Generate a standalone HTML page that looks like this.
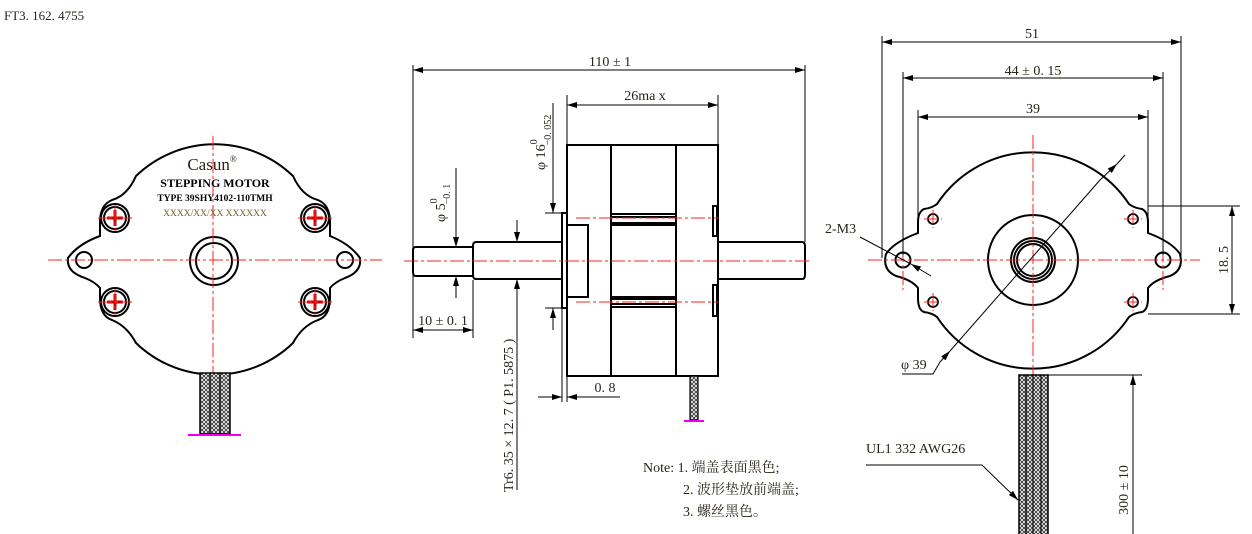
<!DOCTYPE html>
<html><head><meta charset="utf-8"><style>
html,body{margin:0;padding:0;background:#fff;}
svg{display:block;}
text{font-family:"Liberation Serif","Noto Serif CJK SC",serif;fill:#2a2418;}
</style></head><body>
<svg width="1252" height="534" viewBox="0 0 1252 534" xmlns="http://www.w3.org/2000/svg">
<defs>
<marker id="a" viewBox="0 0 10 6" refX="10" refY="3" markerWidth="10" markerHeight="6" orient="auto-start-reverse" markerUnits="userSpaceOnUse"><path d="M0,0L10,3L0,6z" fill="#000"/></marker>
<pattern id="br" width="4" height="4" patternUnits="userSpaceOnUse"><rect width="4" height="4" fill="#fff"/><path d="M0,0L4,4M4,0L0,4" stroke="#333" stroke-width="0.9"/></pattern>
</defs>
<text x="4" y="20" font-size="13">FT3. 162. 4755</text>

<!-- LEFT VIEW -->
<g fill="none" stroke="#000" stroke-width="2">
<path d="M136,176 A113,113 0 0 1 293,176 Q302,196 318,200 Q330,205 330,222 L330,236 Q350,244 360,258 Q362,272 345,278 Q335,282 330,288 L330,298 Q330,316 318,320 Q302,326 293,343 A113,113 0 0 1 136,343 Q127,326 112,320 Q100,316 100,298 L100,288 Q95,282 85,278 Q66,272 68,258 Q78,244 100,236 L100,222 Q100,205 112,200 Q127,196 136,176 Z"/>
<circle cx="84" cy="260" r="8"/><circle cx="345" cy="260" r="8"/>
<circle cx="214" cy="261" r="24"/><circle cx="214" cy="261" r="18"/>
</g>
<g fill="none" stroke="#000" stroke-width="2">
<circle cx="115" cy="218" r="14"/><circle cx="115" cy="218" r="11"/>
<circle cx="315" cy="218" r="14"/><circle cx="315" cy="218" r="11"/>
<circle cx="115" cy="302" r="14"/><circle cx="115" cy="302" r="11"/>
<circle cx="315" cy="302" r="14"/><circle cx="315" cy="302" r="11"/>
</g>
<g stroke="#c00" stroke-width="3">
<path d="M107,218h16M115,210v16M307,218h16M315,210v16M107,302h16M115,294v16M307,302h16M315,294v16"/>
</g>
<g stroke="#f22" stroke-width="1" stroke-dasharray="14,3,3,3" fill="none">
<path d="M48,260H382M213,136V435"/>
<path d="M98,218h34M115,205v26M298,218h34M315,205v26M98,302h34M115,289v26M298,302h34M315,289v26"/>
</g>
<rect x="200" y="373" width="30" height="61" fill="url(#br)" stroke="#000" stroke-width="1.5"/>
<path d="M210,373v61M220,373v61" stroke="#000" stroke-width="1.2"/>
<path d="M188,435H241" stroke="#e0e" stroke-width="2"/>
<text x="212" y="170" font-size="17" text-anchor="middle">Casun<tspan font-size="9" dy="-8">®</tspan></text>
<text x="215" y="187" font-size="12" font-weight="bold" text-anchor="middle" style="fill:#000">STEPPING MOTOR</text>
<text x="215" y="201" font-size="9.5" font-weight="bold" text-anchor="middle" style="fill:#000">TYPE 39SHY4102-110TMH</text>
<text x="215" y="216" font-size="9.5" text-anchor="middle" style="fill:#7a5a20">XXXX/XX/XX  XXXXXX</text>

<!-- MIDDLE VIEW -->
<g fill="none" stroke="#000" stroke-width="2">
<path d="M473,247H416Q413,247 413,250V272Q413,276 416,276H473"/>
<path d="M562,242H476Q473,242 473,246V275Q473,279 476,279H562"/>
<rect x="562" y="213" width="5" height="95"/>
<rect x="567" y="145" width="151" height="231"/>
<path d="M611,145V376M676,145V376"/>
<rect x="567" y="225" width="21" height="72"/>
<path d="M611,214H676M611,217H676M611,223H676M611,225H676M611,297H676M611,299H676M611,304H676M611,307H676"/>
<rect x="713" y="206" width="4" height="30"/><rect x="713" y="285" width="4" height="31"/>
<path d="M718,242H802Q805,242 805,246V275Q805,279 802,279H718"/>
</g>
<g stroke="#f22" stroke-width="1" stroke-dasharray="14,3,3,3" fill="none">
<path d="M404,261H812M576,218H718M576,302H718"/>
</g>
<rect x="690" y="376" width="8" height="44" fill="url(#br)" stroke="#000" stroke-width="1.2"/>
<path d="M684,421H704" stroke="#e0e" stroke-width="2"/>
<g stroke="#000" stroke-width="1" fill="none">
<path d="M413,65V338M805,65V242M473,280V338M567,95V145M718,95V145"/>
<path d="M413,70H805" marker-start="url(#a)" marker-end="url(#a)"/>
<path d="M567,105H718" marker-start="url(#a)" marker-end="url(#a)"/>
<path d="M413,330H473" marker-start="url(#a)" marker-end="url(#a)"/>
<path d="M545,213H562M545,308H562"/>
<path d="M553,103V213" marker-end="url(#a)"/><path d="M553,330V308" marker-end="url(#a)"/>
<path d="M456,168V247" marker-end="url(#a)"/><path d="M456,298V276" marker-end="url(#a)"/>
<path d="M517,220V242" marker-end="url(#a)"/><path d="M517,490V279" marker-end="url(#a)"/>
<path d="M562,308V402M567,376V402"/>
<path d="M538,397H562" marker-end="url(#a)"/><path d="M620,397H567" marker-end="url(#a)"/>
</g>
<text x="610" y="66" font-size="14" text-anchor="middle">110 ± 1</text>
<text x="645" y="100" font-size="14" text-anchor="middle">26ma x</text>
<text x="443" y="325" font-size="14" text-anchor="middle">10 ± 0. 1</text>
<text x="605" y="392" font-size="14" text-anchor="middle">0. 8</text>
<text transform="translate(545,170) rotate(-90)" font-size="14">φ 16<tspan font-size="10" dy="-8">0</tspan><tspan font-size="10" dx="-6" dy="14">−0. 052</tspan></text>
<text transform="translate(445,222) rotate(-90)" font-size="14">φ 5<tspan font-size="10" dy="-8">0</tspan><tspan font-size="10" dx="-6" dy="13">−0. 1</tspan></text>
<text transform="translate(513,492) rotate(-90)" font-size="14">Tr6. 35 × 12. 7 ( P1. 5875 )</text>

<!-- RIGHT VIEW -->
<g fill="none" stroke="#000" stroke-width="2">
<path d="M937,204 A115,115 0 0 1 1129,204 Q1134,208 1142,209 Q1148,212 1148,222 L1148,233 Q1172,242 1180,254 Q1184,270 1170,276 Q1154,280 1148,288 L1148,298 Q1148,310 1142,312 Q1134,313 1129,317 A115,115 0 0 1 937,317 Q932,313 924,312 Q918,310 918,298 L918,288 Q912,280 896,276 Q882,270 886,254 Q894,242 918,233 L918,222 Q918,212 924,209 Q932,208 937,204 Z"/>
<circle cx="903" cy="260" r="7.5"/><circle cx="1163" cy="260" r="7.5"/>
<circle cx="1033" cy="260" r="45"/>
<circle cx="1033" cy="260" r="22"/><circle cx="1033" cy="260" r="19"/><circle cx="1033" cy="260" r="16"/>
</g>
<g fill="none" stroke="#000" stroke-width="1.8">
<circle cx="933" cy="219" r="5"/><circle cx="1133" cy="219" r="5"/><circle cx="933" cy="302" r="5"/><circle cx="1133" cy="302" r="5"/>
</g>
<g stroke="#f22" stroke-width="1" stroke-dasharray="14,3,3,3" fill="none">
<path d="M868,260H1200M1033,135V378M903,225V290M1163,225V290"/>
<path d="M924,219h18M933,210v18M1124,219h18M1133,210v18M924,302h18M933,293v18M1124,302h18M1133,293v18"/>
</g>
<rect x="1019" y="375" width="29" height="160" fill="url(#br)" stroke="#000" stroke-width="1.5"/>
<path d="M1026,375v160M1033,375v160M1041,375v160" stroke="#000" stroke-width="1.2"/>
<g stroke="#000" stroke-width="1" fill="none">
<path d="M882,36V258M1181,36V258M903,72V255M1163,72V255M918,110V230M1148,110V230"/>
<path d="M882,42H1181" marker-start="url(#a)" marker-end="url(#a)"/>
<path d="M903,78H1163" marker-start="url(#a)" marker-end="url(#a)"/>
<path d="M918,117H1148" marker-start="url(#a)" marker-end="url(#a)"/>
<path d="M1148,206H1240M1148,314H1240"/>
<path d="M1232,206V314" marker-start="url(#a)" marker-end="url(#a)"/>
<path d="M860,237L911,264"/><path d="M931,276L911,264" marker-end="url(#a)"/>
<path d="M1125,155L1117,164" /><path d="M1100,180L1117,164" marker-end="url(#a)"/>
<path d="M1100,180L950,351"/><path d="M940,362L950,351" marker-end="url(#a)"/>
<path d="M940,362L933,374H902"/>
<path d="M1048,375H1142"/>
<path d="M1133,534V375" marker-end="url(#a)"/>
<path d="M866,465H982L1018,500"/><path d="M1010,492L1018,500" marker-end="url(#a)"/>
</g>
<text x="1032" y="38" font-size="14" text-anchor="middle">51</text>
<text x="1033" y="75" font-size="14" text-anchor="middle">44 ± 0. 15</text>
<text x="1033" y="113" font-size="14" text-anchor="middle">39</text>
<text transform="translate(1228,260) rotate(-90)" font-size="14" text-anchor="middle">18. 5</text>
<text x="825" y="233" font-size="14">2-M3</text>
<text x="901" y="369" font-size="14">φ 39</text>
<text x="866" y="453" font-size="14">UL1 332  AWG26</text>
<text transform="translate(1128,490) rotate(-90)" font-size="14" text-anchor="middle">300 ± 10</text>

<text x="643" y="472" font-size="14">Note: 1. 端盖表面黑色;</text>
<text x="683" y="494" font-size="14">2. 波形垫放前端盖;</text>
<text x="683" y="516" font-size="14">3. 螺丝黑色。</text>
</svg>
</body></html>
